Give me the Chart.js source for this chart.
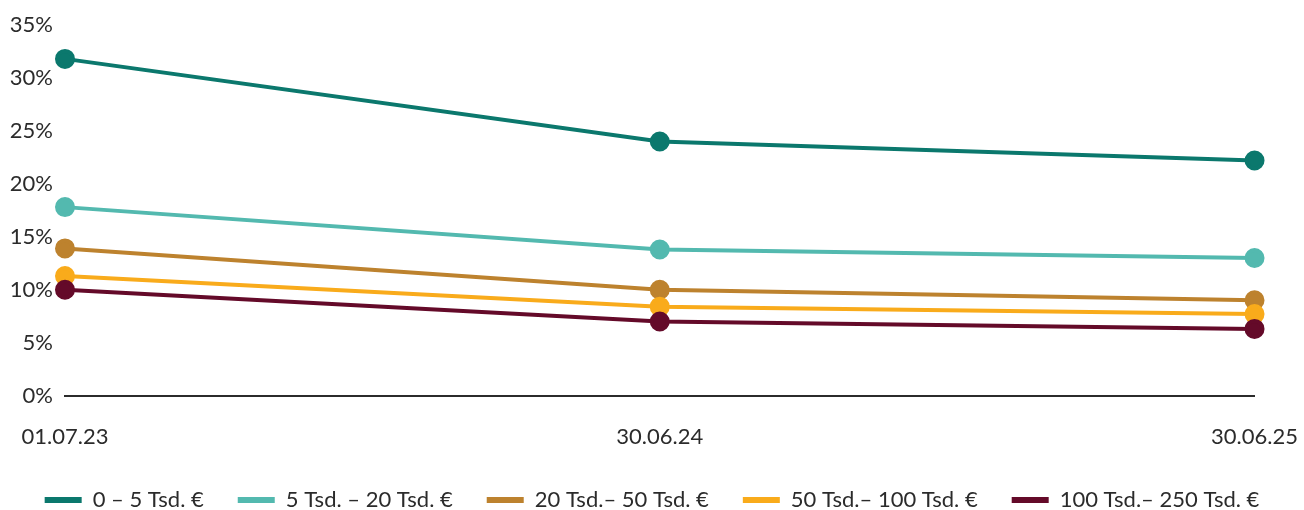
<!DOCTYPE html>
<html>
<head>
<meta charset="utf-8">
<script src="https://cdn.jsdelivr.net/npm/chart.js@4/dist/chart.umd.min.js"></script>
<style>
  html, body { margin: 0; padding: 0; background: #ffffff; }
  #wrap { width: 1304px; height: 510px; position: relative; }
</style>
</head>
<body>
<div id="wrap"><canvas id="chart"></canvas></div>
<script>
// Stichtage
const dates = ['01.07.23', '30.06.24', '30.06.25'];

// Anteile je Größenklasse (in %)
const band0to5 = [31.8, 24.0, 22.2];
const band5to20 = [17.8, 13.8, 13.0];
const band20to50 = [13.9, 10.0, 9.0];
const band50to100 = [11.3, 8.4, 7.7];
const band100to250 = [10.0, 7.0, 6.3];

const seriesNames = [
  '0 – 5 Tsd. €',
  '5 Tsd. – 20 Tsd. €',
  '20 Tsd.– 50 Tsd. €',
  '50 Tsd.– 100 Tsd. €',
  '100 Tsd.– 250 Tsd. €'
];
const seriesColors = ['#0b786d', '#53b9af', '#bd822e', '#f9ab1b', '#640a29'];
const seriesValues = [band0to5, band5to20, band20to50, band50to100, band100to250];

const textColor = '#2b2b2b';
const fontFamily = 'Lato, "Open Sans", "DejaVu Sans", sans-serif';
const fontSize = 22;

// Legend padding is wide for horizontal spacing between items; this plugin
// trims the vertical space it would otherwise take and lifts the row slightly.
const LEGEND_TRIM = 16;
const LEGEND_LIFT = 1;
const legendTighten = {
  id: 'legendTighten',
  beforeLayout(chart) {
    const lg = chart.legend;
    if (lg && !lg._trimmed) {
      const fit = lg.fit;
      lg.fit = function () {
        fit.call(this);
        this.height = Math.max(0, this.height - LEGEND_TRIM);
      };
      // draw without clipping to the (trimmed) legend box
      lg.draw = function () {
        if (!this.options.display) return;
        this.ctx.save();
        this._draw();
        this.ctx.restore();
      };
      lg._trimmed = true;
    }
  },
  afterLayout(chart) {
    const lg = chart.legend;
    if (lg) {
      lg.top -= LEGEND_LIFT;
      lg.bottom -= LEGEND_LIFT;
    }
  }
};

const datasets = seriesValues.map((vals, i) => ({
  label: seriesNames[i],
  data: vals,
  borderColor: seriesColors[i],
  backgroundColor: seriesColors[i],
  pointBackgroundColor: seriesColors[i],
  pointBorderColor: seriesColors[i],
  borderWidth: 4,
  pointRadius: 8,
  pointHoverRadius: 8,
  tension: 0,
  fill: false
}));

new Chart(document.getElementById('chart'), {
  type: 'line',
  data: { labels: dates, datasets: datasets.slice().reverse() },
  plugins: [legendTighten],
  options: {
    responsive: true,
    maintainAspectRatio: false,
    animation: false,
    layout: { padding: { top: 25, right: 0, left: 0, bottom: 4 } },
    plugins: {
      tooltip: { enabled: false },
      legend: {
        position: 'bottom',
        reverse: true,
        labels: {
          color: textColor,
          font: { family: fontFamily, size: fontSize, weight: 400 },
          boxWidth: 37,
          boxHeight: 6,
          useBorderRadius: true,
          borderRadius: 3,
          padding: 34,
          generateLabels(chart) {
            return chart.data.datasets.map((ds, i) => ({
              text: ds.label,
              fillStyle: ds.borderColor,
              strokeStyle: ds.borderColor,
              lineWidth: 0,
              fontColor: textColor,
              hidden: false,
              datasetIndex: i
            }));
          }
        }
      }
    },
    scales: {
      x: {
        grid: { display: false, tickLength: 22 },
        border: { display: true, color: '#2b2b2b', width: 2 },
        ticks: {
          color: textColor,
          font: { family: fontFamily, size: fontSize, weight: 400 },
          padding: 6,
          maxRotation: 0
        }
      },
      y: {
        min: 0,
        max: 35,
        afterFit(scale) { scale.width = 65; },
        grid: { display: false },
        border: { display: false },
        ticks: {
          stepSize: 5,
          color: textColor,
          font: { family: fontFamily, size: fontSize, weight: 400 },
          padding: 4,
          callback: v => v + '%'
        }
      }
    }
  }
});
</script>
</body>
</html>
